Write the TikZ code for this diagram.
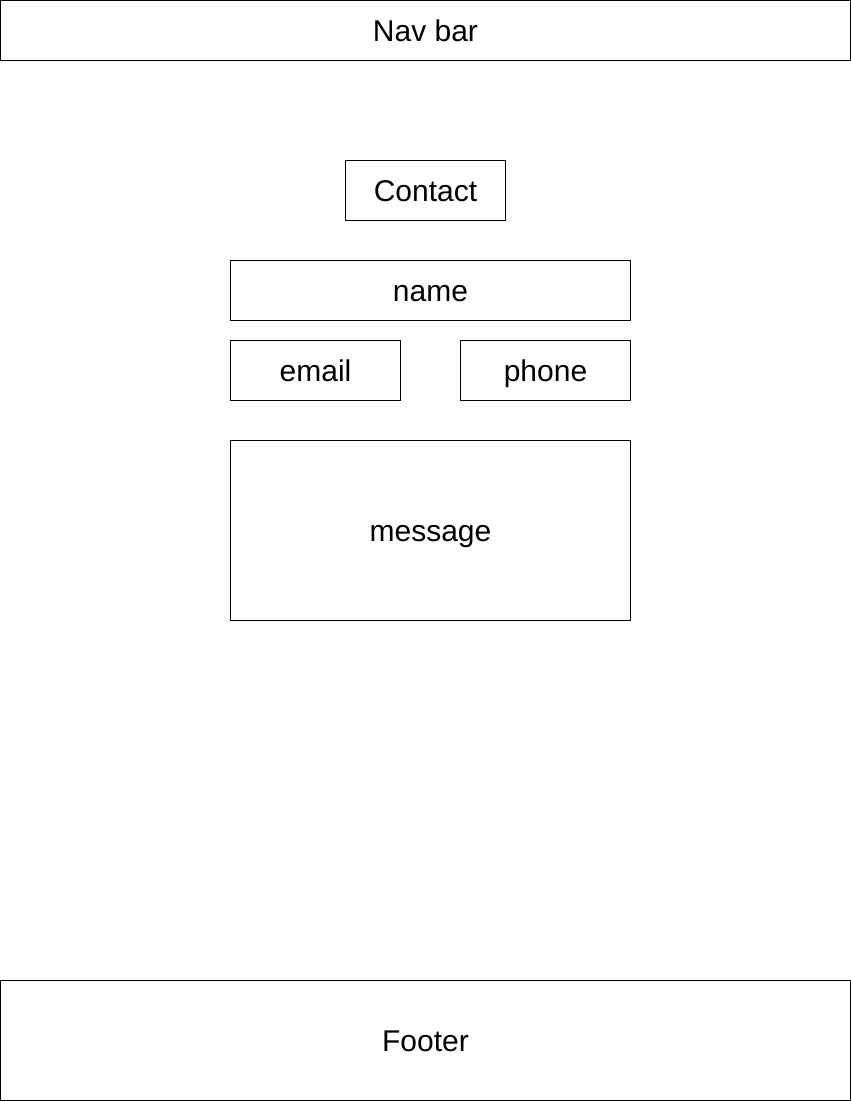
\documentclass[tikz,border=0pt]{standalone}
\usepackage{fontspec}
\setmainfont{Liberation Sans}
\begin{document}
\begin{tikzpicture}[x=1pt,y=-1pt,
  box/.style={draw=black,line width=0.8pt,fill=white},
  lbl/.style={font=\fontsize{30}{36}\selectfont,text=black,anchor=base,inner sep=0pt}]
\useasboundingbox (0,0) rectangle (851,1101);
\fill[white] (0,0) rectangle (851,1101);
\draw[box] (0.5,0.5) rectangle (850.5,60.5);
\node[lbl] (nav) at (425.5,41) {Nav bar};
\draw[box] (345.5,160.5) rectangle (505.5,220.5);
\node[lbl] (contact) at (425.5,201) {Contact};
\draw[box] (230.5,260.5) rectangle (630.5,320.5);
\node[lbl] (name) at (430.5,301) {name};
\draw[box] (230.5,340.5) rectangle (400.5,400.5);
\node[lbl] (email) at (315.5,381) {email};
\draw[box] (460.5,340.5) rectangle (630.5,400.5);
\node[lbl] (phone) at (545.5,381) {phone};
\draw[box] (230.5,440.5) rectangle (630.5,620.5);
\node[lbl] (message) at (430.5,541) {message};
\draw[box] (0.5,980.5) rectangle (850.5,1100.5);
\node[lbl] (footer) at (425.5,1051) {Footer};
\end{tikzpicture}
\end{document}
